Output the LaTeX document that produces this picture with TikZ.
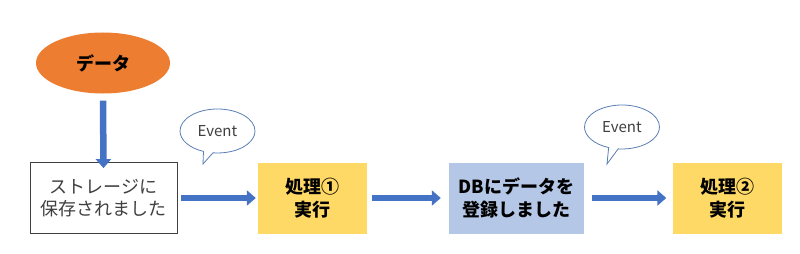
\documentclass[tikz,border=0pt]{standalone}
\usepackage{fontspec}
\setmainfont{Noto Sans CJK JP}
\definecolor{dataorange}{HTML}{ED7D31}
\definecolor{procyellow}{HTML}{FFD966}
\definecolor{dbblue}{HTML}{B4C7E7}
\definecolor{arrowblue}{HTML}{4472C4}
\definecolor{bubbleline}{HTML}{5A7EB5}
\definecolor{textgray}{HTML}{404040}
\usetikzlibrary{shapes.geometric,shapes.callouts,arrows.meta,positioning}

\begin{document}
\begin{tikzpicture}[x=1pt, y=-1pt,
		dbox/.style={minimum width=#1, minimum height=71pt, align=center,
			font=\fontsize{18pt}{22.5pt}\selectfont, inner sep=0pt},
		dbox/.default=109pt,
		bold/.style={font=\fontsize{18pt}{22.5pt}\selectfont\bfseries},
		bubble/.style={ellipse callout, draw=bubbleline, fill=white, line width=0.8pt,
			minimum width=75pt, minimum height=44pt, inner sep=0pt,
			font=\fontsize{15pt}{17pt}\selectfont, text=textgray},
		arrow/.style={-{Triangle[length=9pt,width=15pt]}, line width=6.5pt, arrowblue}
	]
		\useasboundingbox (0,0) rectangle (800,254);
		\node[ellipse, fill=dataorange, minimum width=134pt, minimum height=61pt, bold] (data) at (103,63) {データ};
		\node[dbox=147pt, draw=textgray, line width=0.8pt, fill=white, text=textgray] (store) at (103.5,198)
			{ストレージに\\保存されました};
		\node[dbox, fill=procyellow, bold] (proc1) at (312.5,198) {処理①\\実行};
		\node[dbox=135pt, fill=dbblue, bold] (db) at (516.5,198) {DBにデータを\\登録しました};
		\node[dbox, fill=procyellow, bold] (proc2) at (727,198) {処理②\\実行};
		\coordinate (tip1) at (203,164);
		\coordinate (tip2) at (607,164);
		\node[bubble, callout absolute pointer={(tip1)}] (event1) at (217.5,131) {Event};
		\node[bubble, callout absolute pointer={(tip2)}] (event2) at (622,127) {Event};
		\draw[arrow] ([yshift=-7pt]data.south) -- ([yshift=-6pt]store.north);
		\draw[arrow] ([xshift=4pt]store.east) -- ([xshift=-2pt]proc1.west);
		\draw[arrow] ([xshift=5pt]proc1.east) -- ([xshift=-8pt]db.west);
		\draw[arrow] ([xshift=8pt]db.east) -- ([xshift=-6pt]proc2.west);
	\end{tikzpicture}
\end{document}
